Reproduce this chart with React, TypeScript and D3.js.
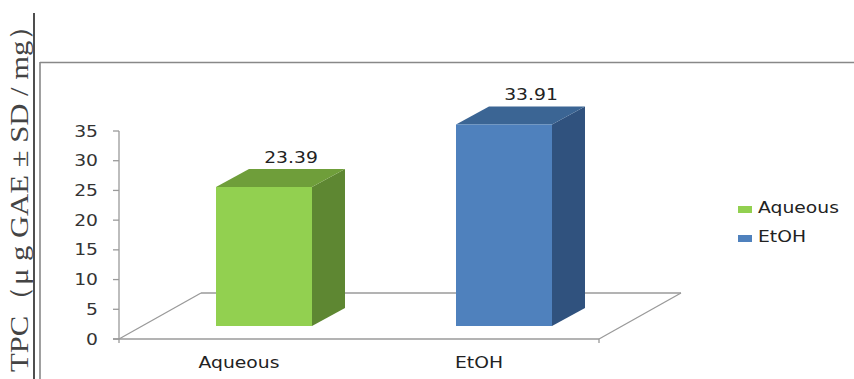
import React from "react";
import * as d3 from "d3";

const categories = ["Aqueous", "EtOH"];
const values = [23.39, 33.91];
const valueLabels = ["23.39", "33.91"];
const yTicks = [0, 5, 10, 15, 20, 25, 30, 35];
const legendLabels = ["Aqueous", "EtOH"];
const yTitle = "TPC（μ g GAE ± SD / mg）";

const palette = [
  { front: "#92d050", top: "#6f9e3a", side: "#5e8732" },
  { front: "#4f81bd", top: "#3b6594", side: "#30527e" },
];

const W = 854;
const H = 379;
const X0 = 119;
const X1 = 599;
const YB = 339;
const YT = 131;
const FLOOR = { dx: 82, dy: -46 };
const BAR_OFF = { dx: 25, dy: -13 };
const BAR_DEPTH = { dx: 33, dy: -18 };
const BAR_FRAC = 0.4;
const SX = 1.25;
const FONT = "DejaVu Sans, Verdana, sans-serif";

export default function App() {
  const x = d3.scaleBand<string>().domain(categories).range([X0, X1]).padding(0);
  const y = d3.scaleLinear().domain([0, 35]).range([YB, YT]);
  const bw = x.bandwidth() * BAR_FRAC;
  const gray = "#9a9a9a";

  const bars = categories.map((c, i) => {
    const left = (x(c) as number) + (x.bandwidth() - bw) / 2 + BAR_OFF.dx;
    const right = left + bw;
    const bottom = y(0) + BAR_OFF.dy;
    const top = y(values[i]) + BAR_OFF.dy;
    const p = (pts: [number, number][]) => pts.map((q) => q.join(",")).join(" ");
    const col = palette[i];
    return (
      <g key={c}>
        <polygon
          points={p([
            [right, top],
            [right + BAR_DEPTH.dx, top + BAR_DEPTH.dy],
            [right + BAR_DEPTH.dx, bottom + BAR_DEPTH.dy],
            [right, bottom],
          ])}
          fill={col.side}
        />
        <polygon
          points={p([
            [left, top],
            [left + BAR_DEPTH.dx, top + BAR_DEPTH.dy],
            [right + BAR_DEPTH.dx, top + BAR_DEPTH.dy],
            [right, top],
          ])}
          fill={col.top}
        />
        <rect x={left} y={top} width={bw} height={bottom - top} fill={col.front} />
        <text
          transform={`translate(${left + bw / 2 + 27},${top + BAR_DEPTH.dy - 6}) scale(${SX},1)`}
          textAnchor="middle"
          fontFamily={FONT}
          fontSize={15}
          fill="#222"
        >
          {valueLabels[i]}
        </text>
      </g>
    );
  });

  return (
    <div style={{ position: "absolute", left: 0, top: 0 }}>
      <svg width={W} height={H} style={{ display: "block", background: "#fff" }}>
        {/* outer frame lines */}
        <line x1={34} y1={13} x2={34} y2={H} stroke="#222" strokeWidth={1.6} />
        <line x1={40} y1={62.5} x2={W} y2={62.5} stroke="#888" strokeWidth={1.6} />
        <line x1={40} y1={62} x2={40} y2={H} stroke="#888" strokeWidth={1.6} />

        {/* y title */}
        <text
          transform={`translate(28,${(10 + 372) / 2}) rotate(-90)`}
          textAnchor="middle"
          fontFamily="Liberation Serif, Times New Roman, serif"
          fontSize={26}
          fill="#444"
          textLength={362}
          lengthAdjust="spacingAndGlyphs"
        >
          {yTitle}
        </text>

        {/* floor */}
        <g stroke={gray} strokeWidth={1.3} fill="none">
          <line x1={X0 + FLOOR.dx} y1={YB + FLOOR.dy} x2={X1 + FLOOR.dx} y2={YB + FLOOR.dy} />
          <line x1={X0} y1={YB} x2={X0 + FLOOR.dx} y2={YB + FLOOR.dy} />
          <line x1={X1} y1={YB} x2={X1 + FLOOR.dx} y2={YB + FLOOR.dy} />
          <line x1={X0 - 6} y1={YB} x2={X1} y2={YB} />
          <line x1={X0} y1={YT} x2={X0} y2={YB + 4} />
          <line x1={X1} y1={YB} x2={X1} y2={YB + 4} />
          {yTicks.map((t) => (
            <line key={t} x1={X0 - 6} y1={y(t)} x2={X0} y2={y(t)} />
          ))}
        </g>

        {/* y tick labels */}
        {yTicks.map((t) => (
          <text
            key={t}
            transform={`translate(98,${y(t) + 5.5}) scale(${SX},1)`}
            textAnchor="end"
            fontFamily={FONT}
            fontSize={15}
            fill="#333"
          >
            {t}
          </text>
        ))}

        {/* category labels */}
        {categories.map((c) => (
          <text
            key={c}
            transform={`translate(${(x(c) as number) + x.bandwidth() / 2},368) scale(${SX},1)`}
            textAnchor="middle"
            fontFamily={FONT}
            fontSize={15}
            fill="#222"
          >
            {c}
          </text>
        ))}

        {bars}

        {/* legend */}
        {legendLabels.map((l, i) => (
          <g key={l} transform={`translate(738,${206 + i * 29})`}>
            <rect x={0} y={0} width={14} height={7} fill={palette[i].front} />
            <text
              transform={`translate(20,7) scale(${SX},1)`}
              fontFamily={FONT}
              fontSize={15}
              fill="#222"
            >
              {l}
            </text>
          </g>
        ))}
      </svg>
    </div>
  );
}
